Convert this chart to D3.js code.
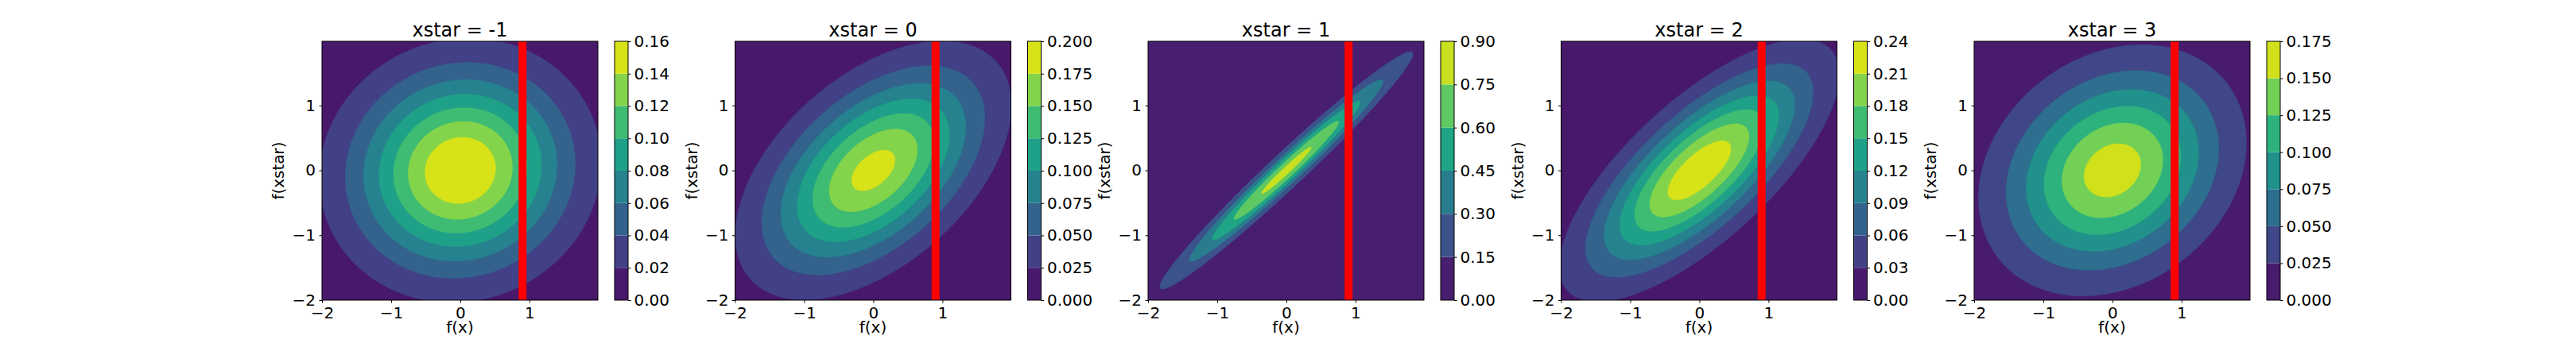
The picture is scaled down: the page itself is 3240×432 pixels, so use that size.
<!DOCTYPE html>
<html>
<head>
<meta charset="utf-8">
<script src="https://cdn.jsdelivr.net/npm/d3@7"></script>
<style>
	body { margin: 0; background: #fff; }
	svg { display: block; font-family: "DejaVu Sans", sans-serif; }
</style>
</head>
<body>
<svg id="chart" width="3240" height="432"></svg>
<script>

// one panel per test point
var xstars = [-1, 0, 1, 2, 3];
var correlations = [0.06, 0.5, 0.98, 0.73, 0.22];
// observed f(x) (red line)
var fObserved = 0.9;

// contour levels = colorbar ticks
var levels1 = [0, 0.02, 0.04, 0.06, 0.08, 0.10, 0.12, 0.14, 0.16];
var levels2 = [0, 0.025, 0.05, 0.075, 0.1, 0.125, 0.15, 0.175, 0.2];
var levels3 = [0, 0.15, 0.3, 0.45, 0.6, 0.75, 0.9];
var levels4 = [0, 0.03, 0.06, 0.09, 0.12, 0.15, 0.18, 0.21, 0.24];
var levels5 = [0, 0.025, 0.05, 0.075, 0.1, 0.125, 0.15, 0.175];
var levelSets = [levels1, levels2, levels3, levels4, levels5];
var levelFormats = [".2f", ".3f", ".2f", ".2f", ".3f"];

var axisTicks = [-2, -1, 0, 1];
var gridMin = -2, gridStep = 0.01, gridN = 400; // f from -2 to 1.99

var axLeft0 = 405, panelStep = 519.5;
var axTop = 52, axW = 347, axH = 326;
var cbOffset = 368, cbW = 17;
var tickFont = 20, titleFont = 24;

var svg = d3.select("#chart");
svg.append("rect").attr("width", 3240).attr("height", 432).attr("fill", "#fff");

function density(a, b, rho) {
	var det = 1 - rho * rho;
	return Math.exp(-(a * a - 2 * rho * a * b + b * b) / (2 * det)) / (2 * Math.PI * Math.sqrt(det));
}//density

xstars.forEach(function(xs, p) {
	drawPanel(p);
});

function drawPanel(p) {
	var left = axLeft0 + p * panelStep;
	var levels = levelSets[p];
	var nBands = levels.length - 1;
	var rho = correlations[p];

	var x = d3.scaleLinear().domain([gridMin, gridMin + (gridN - 1) * gridStep]).range([0, axW]);
	var y = d3.scaleLinear().domain([gridMin, gridMin + (gridN - 1) * gridStep]).range([axH, 0]);

	var g = svg.append("g").attr("transform", "translate(" + left + "," + axTop + ")");

	g.append("clipPath").attr("id", "clip" + p)
		.append("rect").attr("width", axW).attr("height", axH);

	// density grid
	var values = new Float64Array(gridN * gridN);
	for (var j = 0; j < gridN; j++) {
		for (var i = 0; i < gridN; i++) {
			values[j * gridN + i] = density(gridMin + i * gridStep, gridMin + j * gridStep, rho);
		}
	}

	var contours = d3.contours().size([gridN, gridN]).thresholds(levels.slice(0, -1))(values);

	var proj = d3.geoTransform({
		point: function(px, py) {
			this.stream.point(x(gridMin + (px - 0.5) * gridStep), y(gridMin + (py - 0.5) * gridStep));
		}
	});
	var path = d3.geoPath(proj);

	var color = function(k) { return d3.interpolateViridis((k + 0.5) / nBands); };

	g.append("g").attr("clip-path", "url(#clip" + p + ")")
		.selectAll("path")
		.data(contours)
		.join("path")
		.attr("d", path)
		.attr("fill", function(d, k) { return color(k); })
		.attr("stroke", function(d, k) { return color(k); })
		.attr("stroke-width", 0.5);

	// red line at the observed f(x)
	g.append("line")
		.attr("x1", x(fObserved)).attr("x2", x(fObserved))
		.attr("y1", 0).attr("y2", axH)
		.attr("stroke", "#ff0000")
		.attr("stroke-width", 10);

	// spines
	g.append("rect")
		.attr("width", axW).attr("height", axH)
		.attr("fill", "none").attr("stroke", "#000").attr("stroke-width", 1);

	var intFmt = d3.format("d");
	var xAxis = g.append("g").attr("transform", "translate(0," + axH + ")")
		.call(d3.axisBottom(x).tickValues(axisTicks).tickFormat(intFmt)
			.tickSize(3.5).tickSizeOuter(0).tickPadding(5));
	var yAxis = g.append("g")
		.call(d3.axisLeft(y).tickValues(axisTicks).tickFormat(intFmt)
			.tickSize(3.5).tickSizeOuter(0).tickPadding(4.5));
	[xAxis, yAxis].forEach(function(a) {
		a.attr("font-family", null).attr("font-size", tickFont);
		a.select(".domain").remove();
		a.selectAll("text").attr("fill", "#000");
	});

	// title and labels
	g.append("text")
		.attr("x", axW / 2).attr("y", -6)
		.attr("text-anchor", "middle")
		.attr("font-size", titleFont)
		.text("xstar = " + xstars[p]);

	g.append("text")
		.attr("x", axW / 2).attr("y", axH + 41)
		.attr("text-anchor", "middle")
		.attr("font-size", tickFont)
		.text("f(x)");

	g.append("text")
		.attr("transform", "translate(-48," + (axH / 2) + ") rotate(-90)")
		.attr("text-anchor", "middle")
		.attr("font-size", tickFont)
		.text("f(xstar)");

	// colorbar
	var cb = g.append("g").attr("transform", "translate(" + cbOffset + ",0)");
	var c = d3.scaleLinear().domain([levels[0], levels[nBands]]).range([axH, 0]);

	cb.selectAll("rect.band")
		.data(d3.range(nBands))
		.join("rect")
		.attr("class", "band")
		.attr("x", 0)
		.attr("y", function(k) { return c(levels[k + 1]); })
		.attr("width", cbW)
		.attr("height", function(k) { return c(levels[k]) - c(levels[k + 1]); })
		.attr("fill", color);

	cb.append("rect")
		.attr("width", cbW).attr("height", axH)
		.attr("fill", "none").attr("stroke", "#000").attr("stroke-width", 1);

	var cAxis = cb.append("g").attr("transform", "translate(" + cbW + ",0)")
		.call(d3.axisRight(c).tickValues(levels).tickFormat(d3.format(levelFormats[p]))
			.tickSize(3.5).tickSizeOuter(0).tickPadding(4));
	cAxis.attr("font-family", null).attr("font-size", tickFont);
	cAxis.select(".domain").remove();
	cAxis.selectAll("text").attr("fill", "#000");

}//drawPanel

</script>
</body>
</html>
